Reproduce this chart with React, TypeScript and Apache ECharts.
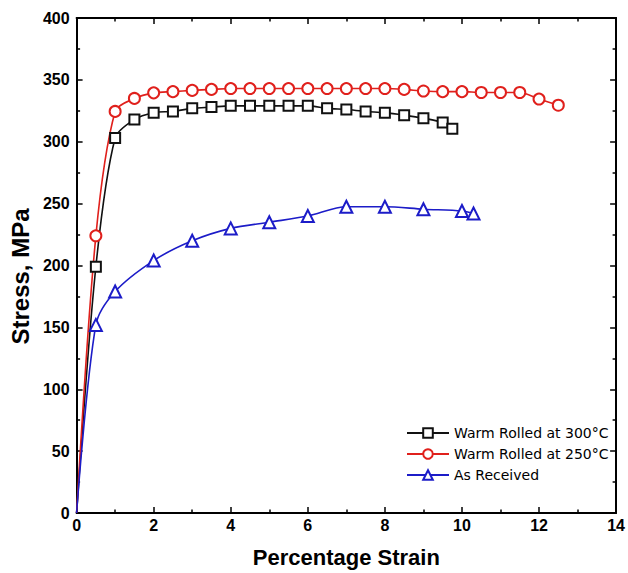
import React, { useEffect, useRef } from "react";
import * as echarts from "echarts";

const strain300 = [0.5, 1, 1.5, 2, 2.5, 3, 3.5, 4, 4.5, 5, 5.5, 6, 6.5, 7, 7.5, 8, 8.5, 9, 9.5, 9.75];
const stress300 = [199, 303, 318, 323.5, 324.5, 327, 328, 329, 329, 329, 329, 329, 327, 326, 324.5, 323.5, 321.5, 319, 315.5, 310.5];

const strain250 = [0.5, 1, 1.5, 2, 2.5, 3, 3.5, 4, 4.5, 5, 5.5, 6, 6.5, 7, 7.5, 8, 8.5, 9, 9.5, 10, 10.5, 11, 11.5, 12, 12.5];
const stress250 = [224, 324.5, 335, 339.5, 340.5, 341.5, 342.3, 343, 343, 343, 343, 343, 343, 343, 343, 343, 342.3, 341, 340.5, 340.5, 339.8, 339.8, 339.8, 334.5, 329.5];

const strainAR = [0.5, 1, 2, 3, 4, 5, 6, 7, 8, 9, 10, 10.3];
const stressAR = [152, 179, 204, 220, 230, 235, 240, 247.5, 247.5, 245.5, 244, 242];

const seriesNames = ["Warm Rolled at 300°C", "Warm Rolled at 250°C", "As Received"];

function build(xs: number[], ys: number[]) {
  const d: any[] = [{ value: [0, 0], symbol: "none" }];
  xs.forEach((x, i) => d.push([x, ys[i]]));
  return d;
}

export default function App() {
  const ref = useRef<HTMLDivElement>(null);
  useEffect(() => {
    document.body.style.margin = "0";
    const chart = echarts.init(ref.current!, null, { renderer: "svg" });
    const tickFont = { fontFamily: "Liberation Sans", fontWeight: "bold" as const, fontSize: 16, color: "#000" };
    const axisCommon = {
      axisLine: { show: true, onZero: false, lineStyle: { color: "#000", width: 2 } },
      axisTick: { show: true, inside: true, length: 6, lineStyle: { color: "#000", width: 1.5 } },
      minorTick: { show: true, splitNumber: 2, length: 3.5, lineStyle: { color: "#000", width: 1.5 } },
      splitLine: { show: false },
    };
    const mk = (name: string, xs: number[], ys: number[], color: string, symbol: string, size: number) => ({
      name,
      type: "line",
      data: build(xs, ys),
      smooth: 0.3,
      symbol,
      symbolSize: size,
      showAllSymbol: true,
      lineStyle: { color, width: 1.6 },
      itemStyle: { color, borderColor: color, borderWidth: 1.6 },
      xAxisIndex: 0,
      yAxisIndex: 0,
    });
    chart.setOption({
      animation: false,
      backgroundColor: "#fff",
      grid: { left: 73, right: 11, top: 18, bottom: 56, containLabel: false },
      legend: {
        orient: "vertical",
        left: 401,
        top: 421,
        itemWidth: 42,
        itemHeight: 12,
        itemGap: 7,
        data: seriesNames,
        textStyle: { fontFamily: "DejaVu Sans", fontSize: 14, lineHeight: 14, color: "#000" },
      },
      xAxis: [
        {
          type: "value",
          min: 0,
          max: 14,
          interval: 2,
          name: "Percentage Strain",
          nameLocation: "middle",
          nameGap: 33,
          nameTextStyle: { fontFamily: "Liberation Sans", fontWeight: "bold", fontSize: 22, color: "#000" },
          axisLabel: { ...tickFont, margin: 4 },
          ...axisCommon,
        },
        {
          type: "value",
          position: "top",
          min: 0,
          max: 14,
          interval: 2,
          axisLabel: { show: false },
          ...axisCommon,
        },
      ],
      yAxis: [
        {
          type: "value",
          min: 0,
          max: 400,
          interval: 50,
          name: "Stress, MPa",
          nameLocation: "middle",
          nameGap: 44,
          nameTextStyle: {
            fontFamily: "Liberation Sans",
            fontWeight: "bold",
            fontSize: 24,
            color: "#000",
            padding: [0, 22, 0, 0],
          },
          axisLabel: { ...tickFont, margin: 7 },
          ...axisCommon,
        },
        {
          type: "value",
          position: "right",
          min: 0,
          max: 400,
          interval: 50,
          axisLabel: { show: false },
          ...axisCommon,
        },
      ],
      series: [
        mk(seriesNames[0], strain300, stress300, "#111111", "emptyRect", 10),
        mk(seriesNames[1], strain250, stress250, "#e0201c", "emptyCircle", 11),
        mk(seriesNames[2], strainAR, stressAR, "#1c1cc8", "emptyTriangle", 12),
      ],
    });
    return () => chart.dispose();
  }, []);
  return <div ref={ref} style={{ width: 628, height: 573 }} />;
}
